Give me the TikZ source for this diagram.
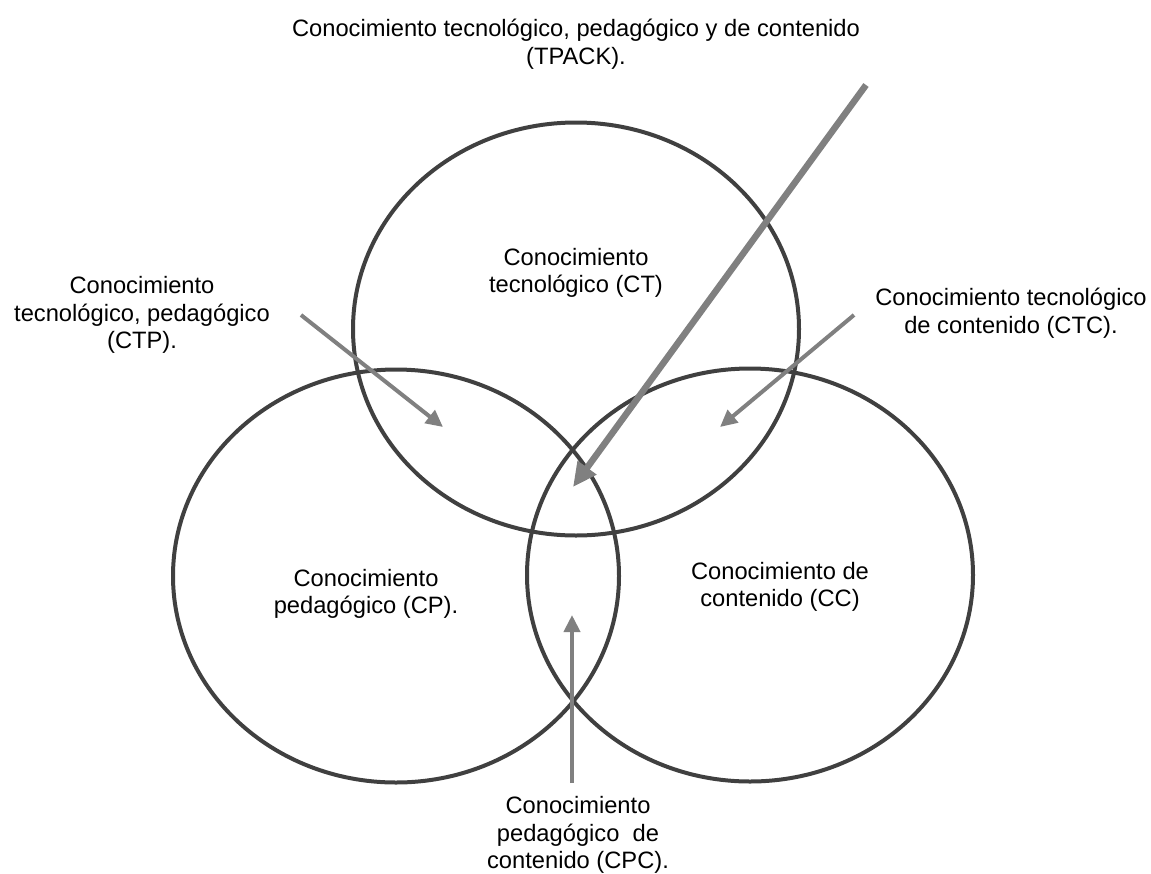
\documentclass[tikz,border=0pt]{standalone}
\usepackage{fontspec}
\setmainfont{Liberation Sans}
\usetikzlibrary{shapes.geometric,arrows.meta}
\definecolor{ringc}{HTML}{404040}
\definecolor{arrc}{HTML}{808080}
\begin{document}
\begin{tikzpicture}[x=1pt,y=-1pt,
  ring/.style={draw=ringc, line width=4pt, ellipse, inner sep=0pt, minimum width=446pt, minimum height=413pt},
  lbl/.style={align=center, font=\fontsize{23.7}{27.5}\selectfont, inner sep=0pt},
  thinarrow/.style={draw=arrc, line width=4pt, -{Triangle[length=17pt,width=16pt]}},
  thickarrow/.style={draw=arrc, line width=6.5pt, -{Triangle[length=24pt,width=22pt]}}]
\useasboundingbox (0,0) rectangle (1151,873);
\node[ring] (ct) at (576,329) {};
\node[ring] (cp) at (396,576) {};
\node[ring] (cc) at (750,575) {};

\node[lbl] (ttpack) at (576,44) {Conocimiento tecnológico, pedagógico y de contenido\\(TPACK).};
\node[lbl] (tct) at (576,273) {Conocimiento\\tecnológico (CT)};
\node[lbl] (tctp) at (142,315) {Conocimiento\\tecnológico, pedagógico\\(CTP).};
\node[lbl] (tctc) at (1011,313) {Conocimiento tecnológico\\de contenido (CTC).};
\node[lbl] (tcp) at (366,594) {Conocimiento\\pedagógico (CP).};
\node[lbl] (tcc) at (780,587) {Conocimiento de\\contenido (CC)};
\node[lbl] (tcpc) at (578,835) {Conocimiento\\pedagógico\ \ de\\contenido (CPC).};

\coordinate (tpS) at (866,85);  \coordinate (tpE) at (573,487);
\coordinate (ctpS) at (301,315); \coordinate (ctpE) at (443,427);
\coordinate (ctcS) at (854,315); \coordinate (ctcE) at (720,427);
\coordinate (cpcS) at (572,783); \coordinate (cpcE) at (572,615);

\draw[thickarrow] (tpS) -- (tpE);
\draw[thinarrow] (ctpS) -- (ctpE);
\draw[thinarrow] (ctcS) -- (ctcE);
\draw[thinarrow] (cpcS) -- (cpcE);
\end{tikzpicture}
\end{document}
